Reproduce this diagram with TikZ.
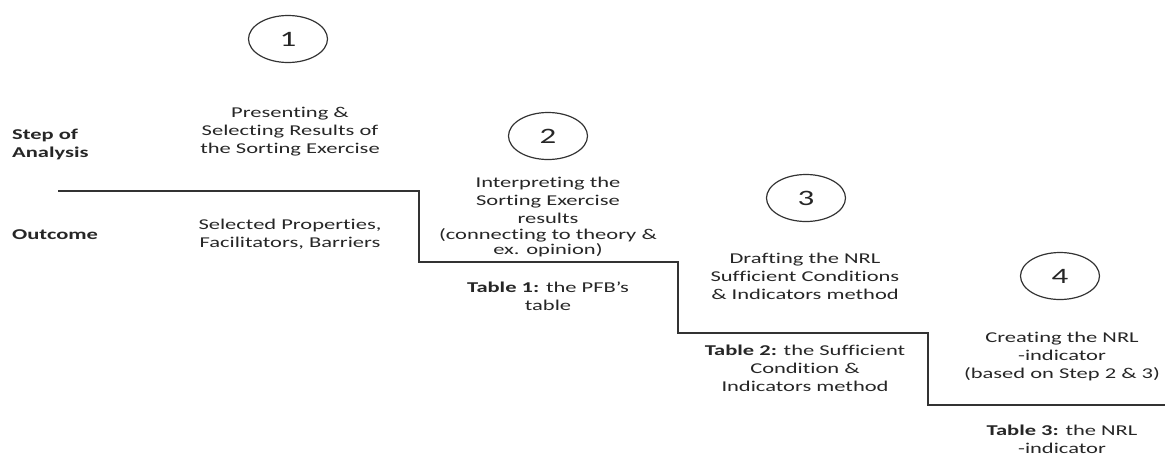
\documentclass[tikz,border=0pt]{standalone}
\usepackage{fontspec}
\setmainfont{Carlito}[Ligatures={NoCommon},FakeStretch=1.5]
\usetikzlibrary{shapes.geometric}
\definecolor{txt}{HTML}{262626}
\definecolor{ln}{HTML}{333333}
\tikzset{
  stepnum/.style={draw=ln, line width=1.2pt, ellipse, minimum width=79pt, minimum height=47pt, inner sep=0pt, font=\fontsize{22}{22}\selectfont, text=txt},
  body/.style={align=center, text=txt, font=\fontsize{15}{18}\selectfont, inner sep=0pt},
  lab/.style={align=left, anchor=west, text=txt, font=\fontsize{15}{18}\selectfont\bfseries, inner sep=0pt},
  stair/.style={draw=ln, line width=1.3pt}
}
\begin{document}
\begin{tikzpicture}[x=1pt,y=-1pt]
\useasboundingbox (0,0) rectangle (1165,456);
% labels
\node[lab] (soa) at (12,144) {Step of\\Analysis};
\node[lab] (out) at (12,235) {Outcome};
% circles
\node[stepnum] (c1) at (288,39) {1};
\node[stepnum] (c2) at (548,136) {2};
\node[stepnum] (c3) at (806,198) {3};
\node[stepnum] (c4) at (1060,276) {4};
% step texts
\node[body] (s1) at (290,132) {Presenting \&\\Selecting Results of\\the Sorting Exercise};
\node[body] (o1) at (290,234) {Selected Properties,\\Facilitators, Barriers};
\node[body] (s2) at (548,217) {Interpreting the\\Sorting Exercise\\results\\[-2pt](connecting to theory \&\\[-3pt]ex. opinion)};
\node[body] (o2) at (548,296) {\textbf{Table 1:} the PFB’s\\table};
\node[body] (s3) at (805,276) {Drafting the NRL\\Sufficient Conditions\\\& Indicators method};
\node[body] (o3) at (805,368) {\textbf{Table 2:} the Sufficient\\Condition \&\\Indicators method};
\node[body] (s4) at (1062,356) {Creating the NRL\\-indicator\\(based on Step 2 \& 3)};
\node[body] (o4) at (1062,439) {\textbf{Table 3:} the NRL\\-indicator};
% staircase
\coordinate (p0) at (58,191);
\coordinate (p1) at (419,191);
\coordinate (p2) at (419,262);
\coordinate (p3) at (678,262);
\coordinate (p4) at (678,333);
\coordinate (p5) at (928,333);
\coordinate (p6) at (928,405);
\coordinate (p7) at (1165,405);
\draw[stair] (p0) -- (p1) -- (p2) -- (p3) -- (p4) -- (p5) -- (p6) -- (p7);
\end{tikzpicture}
\end{document}
